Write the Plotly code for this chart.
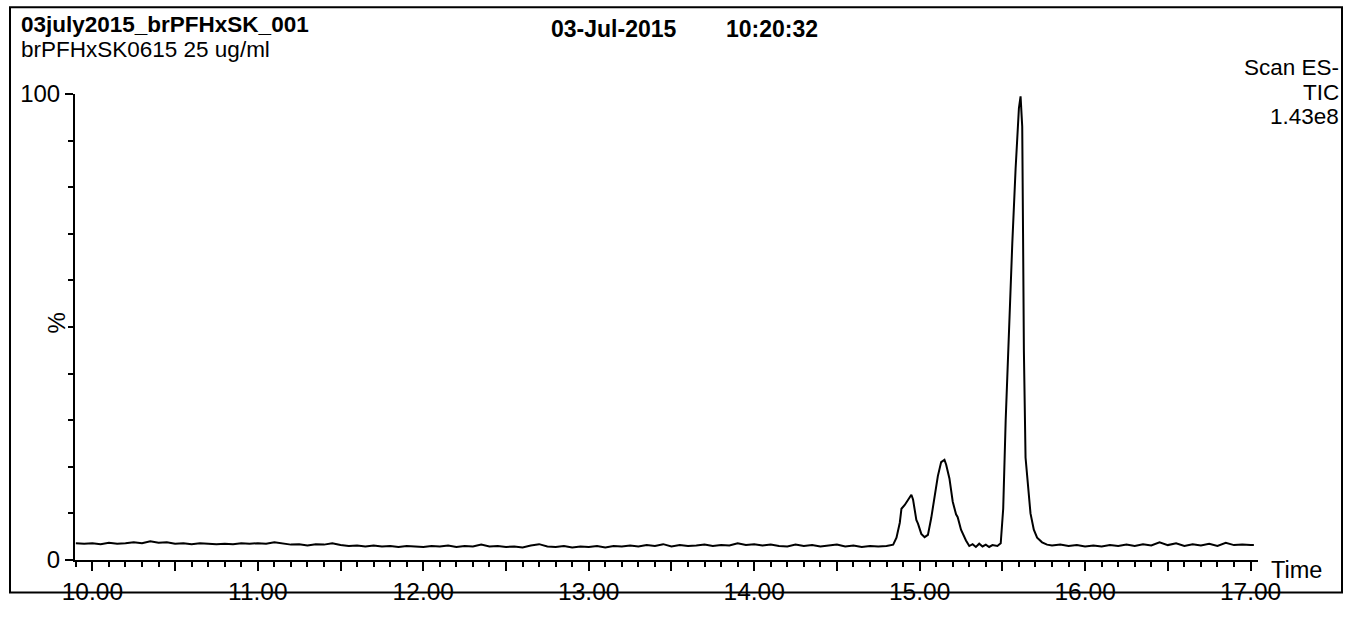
import plotly.graph_objects as go

# ---------------- data ----------------
baseline_times = [
    9.90, 9.95, 10.00, 10.05, 10.10, 10.15, 10.20, 10.25, 10.30, 10.35,
    10.40, 10.45, 10.50, 10.55, 10.60, 10.65, 10.70, 10.75, 10.80, 10.85,
    10.90, 10.95, 11.00, 11.05, 11.10, 11.15, 11.20, 11.25, 11.30, 11.35,
    11.40, 11.45, 11.50, 11.55, 11.60, 11.65, 11.70, 11.75, 11.80, 11.85,
    11.90, 11.95, 12.00, 12.05, 12.10, 12.15, 12.20, 12.25, 12.30, 12.35,
    12.40, 12.45, 12.50, 12.55, 12.60, 12.65, 12.70, 12.75, 12.80, 12.85,
    12.90, 12.95, 13.00, 13.05, 13.10, 13.15, 13.20, 13.25, 13.30, 13.35,
    13.40, 13.45, 13.50, 13.55, 13.60, 13.65, 13.70, 13.75, 13.80, 13.85,
    13.90, 13.95, 14.00, 14.05, 14.10, 14.15, 14.20, 14.25, 14.30, 14.35,
    14.40, 14.45, 14.50, 14.55, 14.60, 14.65, 14.70, 14.75, 14.80,
]
baseline_values = [
    3.6, 3.5, 3.6, 3.4, 3.7, 3.5, 3.6, 3.8, 3.6, 4.0,
    3.7, 3.8, 3.5, 3.6, 3.4, 3.6, 3.5, 3.4, 3.5, 3.4,
    3.6, 3.5, 3.6, 3.5, 3.8, 3.5, 3.3, 3.4, 3.1, 3.4,
    3.3, 3.6, 3.2, 3.0, 3.1, 2.9, 3.1, 2.9, 3.0, 2.8,
    3.0, 2.9, 2.8, 3.0, 2.9, 3.1, 2.8, 3.0, 2.9, 3.3,
    2.9, 3.0, 2.8, 2.9, 2.7, 3.1, 3.4, 2.9, 2.8, 3.0,
    2.7, 2.9, 2.8, 3.0, 2.7, 3.0, 2.9, 3.1, 2.9, 3.2,
    3.0, 3.4, 2.9, 3.2, 3.0, 3.1, 3.3, 3.0, 3.2, 3.1,
    3.6, 3.2, 3.4, 3.1, 3.3, 3.0, 2.9, 3.3, 3.0, 3.2,
    2.9, 3.1, 3.3, 2.9, 3.1, 2.8, 3.0, 2.9, 3.0,
]
peak_times = [
    14.84, 14.86, 14.88, 14.89, 14.91, 14.93, 14.95, 14.96, 14.97, 14.98,
    14.99, 15.01, 15.03, 15.05, 15.07, 15.09, 15.11, 15.13, 15.15, 15.16,
    15.18, 15.20, 15.22, 15.23, 15.25, 15.28, 15.30, 15.32, 15.34, 15.36,
    15.38, 15.40, 15.42, 15.44, 15.47, 15.49, 15.505, 15.52, 15.54, 15.56,
    15.58, 15.60, 15.61, 15.62, 15.625, 15.63, 15.64, 15.655, 15.67, 15.69,
    15.71, 15.74, 15.77, 15.80,
]
peak_values = [
    3.3, 4.8, 8.0, 11.0, 11.8, 12.8, 14.0, 13.0, 10.5, 8.6,
    7.8, 5.6, 4.9, 5.4, 9.0, 14.0, 18.0, 21.0, 21.5, 20.5,
    17.5, 12.5, 9.8, 9.2, 6.5, 4.2, 3.0, 3.4, 2.8, 3.5,
    2.9, 3.3, 2.8, 3.2, 3.0, 3.6, 11.0, 30.0, 50.0, 68.0,
    84.0, 97.0, 99.5, 93.0, 70.0, 45.0, 22.0, 15.0, 10.0, 6.5,
    4.8, 3.8, 3.3, 3.1,
]
tail_times = [
    15.85, 15.90, 15.95, 16.00, 16.05, 16.10, 16.15, 16.20, 16.25, 16.30,
    16.35, 16.40, 16.45, 16.50, 16.55, 16.60, 16.65, 16.70, 16.75, 16.80,
    16.85, 16.90, 16.95, 17.00, 17.02,
]
tail_values = [
    3.3, 3.0, 3.2, 2.9, 3.1, 2.9, 3.2, 3.0, 3.3, 3.0,
    3.4, 3.1, 3.8, 3.2, 3.6, 3.0, 3.4, 3.1, 3.5, 3.0,
    3.7, 3.2, 3.3, 3.2, 3.2,
]

x_tick_values = [10.0, 10.5, 11.0, 11.5, 12.0, 12.5, 13.0, 13.5, 14.0, 14.5,
                 15.0, 15.5, 16.0, 16.5, 17.0]
x_tick_labels = ["10.00", "", "11.00", "", "12.00", "", "13.00", "", "14.00", "",
                 "15.00", "", "16.00", "", "17.00"]
y_tick_values = [0, 100]
y_tick_labels = ["0", "100"]

title_text = "03july2015_brPFHxSK_001"
subtitle_text = "brPFHxSK0615 25 ug/ml"
date_text = "03-Jul-2015"
time_text = "10:20:32"
info_lines = ["Scan ES-", "TIC", "1.43e8"]

# ---------------- layout geometry ----------------
W, H = 1351, 617
L, R, T, B = 75, 93, 94, 50
PW, PH = W - L - R, H - T - B
FONT = "Liberation Sans, Arial, sans-serif"


def px(xp):
    return (xp - L) / PW


def py(yp):
    return (H - B - yp) / PH


times = baseline_times + peak_times + tail_times
values = baseline_values + peak_values + tail_values

fig = go.Figure()
fig.add_trace(go.Scatter(x=times, y=values, mode="lines",
                         line=dict(color="black", width=2),
                         hoverinfo="skip", showlegend=False))

ann = []


def text(s, x, y, size=22, bold=False, xanchor="left", angle=0):
    ann.append(dict(text=("<b>%s</b>" % s) if bold else s, x=px(x), y=py(y),
                    xref="paper", yref="paper", showarrow=False,
                    xanchor=xanchor, yanchor="middle", textangle=angle,
                    borderpad=0,
                    font=dict(family=FONT, size=size, color="black")))


text(title_text, 20, 23, size=22.5, bold=True)
text(subtitle_text, 20, 49, size=22.5)
text(date_text, 550, 28, size=23, bold=True)
text(time_text, 725, 28, size=23, bold=True)
for i, s in enumerate(info_lines):
    text(s, 1340, 67 + i * 25, size=22.5, xanchor="right")
text("%", 57, 327, size=24, xanchor="center", angle=-90)
text("Time", 1270, 577, size=23.5)

fig.update_layout(
    width=W, height=H,
    margin=dict(l=L, r=R, t=T, b=B, pad=0),
    paper_bgcolor="white", plot_bgcolor="white",
    annotations=ann,
    shapes=[dict(type="rect", xref="paper", yref="paper",
                 x0=px(10), x1=px(1342), y0=py(600), y1=py(6),
                 line=dict(color="black", width=2))],
    xaxis=dict(range=[9.895, 17.045], showgrid=False, zeroline=False,
               showline=True, linecolor="black", linewidth=2,
               tickmode="array", tickvals=x_tick_values, ticktext=x_tick_labels,
               ticks="outside", ticklen=9, tickwidth=1.5, tickcolor="black",
               tickfont=dict(family=FONT, size=24.5, color="black"),
               minor=dict(tick0=10, dtick=0.1, ticks="outside", ticklen=5,
                          tickwidth=1.5, tickcolor="black", showgrid=False)),
    yaxis=dict(range=[0, 100], showgrid=False, zeroline=False,
               showline=True, linecolor="black", linewidth=2,
               tickmode="array", tickvals=y_tick_values, ticktext=y_tick_labels,
               ticks="outside", ticklen=8, tickwidth=1.5, tickcolor="black",
               tickfont=dict(family=FONT, size=24, color="black"),
               minor=dict(tick0=0, dtick=10, ticks="outside", ticklen=5,
                          tickwidth=1.5, tickcolor="black", showgrid=False)),
)

fig.write_html("out.html", config={"displayModeBar": False},
               post_script="document.body.style.margin='0';")
